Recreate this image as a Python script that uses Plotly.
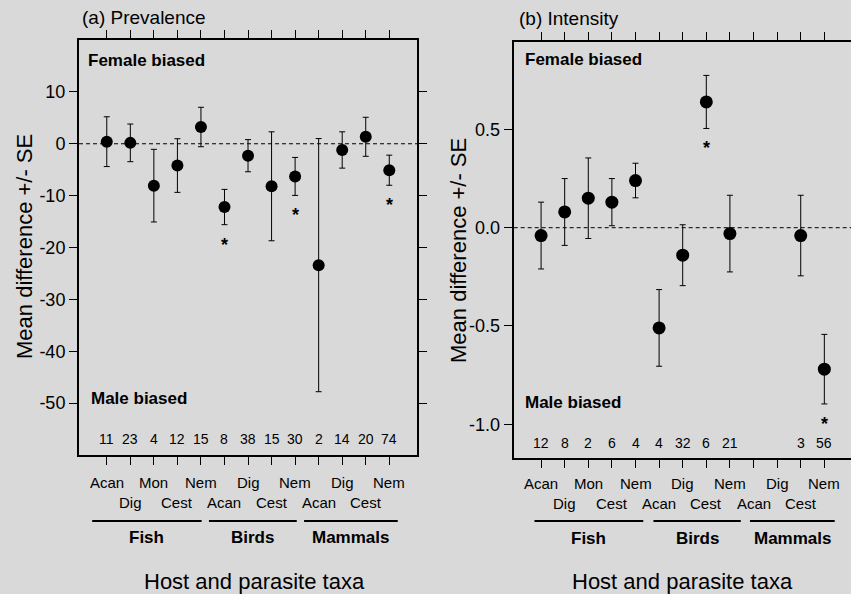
import plotly.graph_objects as go

# ---------------- data ----------------
categories = list(range(1, 14))
parasite_labels = ["Acan", "Dig", "Mon", "Cest", "Nem",
                   "Acan", "Dig", "Cest", "Nem",
                   "Acan", "Dig", "Cest", "Nem"]
host_groups = ["Fish", "Birds", "Mammals"]
host_members = [[1, 2, 3, 4, 5], [6, 7, 8, 9], [10, 11, 12, 13]]

prev_mean = [0.4, 0.17, -8.08, -4.2, 3.23, -12.2, -2.3, -8.2, -6.3, -23.4, -1.2, 1.34, -5.1]
prev_se = [4.8, 3.63, 7.0, 5.17, 3.8, 3.4, 3.1, 10.5, 3.66, 24.4, 3.5, 3.76, 2.9]
prev_n = [11, 23, 4, 12, 15, 8, 38, 15, 30, 2, 14, 20, 74]
prev_sig = [0, 0, 0, 0, 0, 1, 0, 0, 1, 0, 0, 0, 1]

int_mean = [-0.04, 0.08, 0.15, 0.13, 0.24, -0.51, -0.14, 0.64, -0.03, None, None, -0.04, -0.72]
int_se = [0.17, 0.17, 0.205, 0.12, 0.088, 0.195, 0.155, 0.135, 0.195, None, None, 0.205, 0.177]
int_n = [12, 8, 2, 6, 4, 4, 32, 6, 21, None, None, 3, 56]
int_sig = [0, 0, 0, 0, 0, 0, 0, 1, 0, 0, 0, 0, 1]

prev_ticks = [10, 0, -10, -20, -30, -40, -50]
int_ticks = [0.5, 0.0, -0.5, -1.0]

# ---------------- layout constants ----------------
W, H = 851, 594
BG = "#d9d9d9"
FONT = "Liberation Sans, Arial, Helvetica, sans-serif"


def px_x(p):
    return p / W


def px_y(p):
    return 1 - p / H


panels = [
    dict(xa="x", ya="y", xdom=[px_x(79), px_x(417.3)], ydom=[px_y(455), px_y(40)],
         xrange=[-0.18, 14.19], yrange=[-60, 20], mirror_y="allticks",
         title="(a) Prevalence", title_px=(80, 17),
         mean=prev_mean, se=prev_se, n=prev_n, sig=prev_sig,
         ticks=prev_ticks, ticktext=[str(t) for t in prev_ticks],
         spans=[(0.38, 5.03), (5.34, 9.07), (9.38, 13.36)],
         row_px=(482.5, 502.5), line_px=521, group_px=537,
         xtitle_px=(254, 581), ytitle_px=(24, 247),
         fem=(0.021, 0.950), male=(0.030, 0.135), n_y=0.038, msize=12),
    dict(xa="x2", ya="y2", xdom=[px_x(513.7), 1.0], ydom=[px_y(457.5), px_y(42)],
         xrange=[-0.16, 14.13], yrange=[-1.1695, 0.945], mirror_y=False,
         title="(b) Intensity", title_px=(516.7, 18.5),
         mean=int_mean, se=int_se, n=int_n, sig=int_sig,
         ticks=int_ticks, ticktext=["0.5", "0.0", "-0.5", "-1.0"],
         spans=[(0.72, 5.33), (5.76, 9.46), (9.85, 13.44)],
         row_px=(483.5, 503.5), line_px=521, group_px=538,
         xtitle_px=(682, 581), ytitle_px=(459, 250),
         fem=(0.027, 0.957), male=(0.028, 0.132), n_y=0.036, msize=13),
]

fig = go.Figure()
annotations = []
shapes = []

for i, p in enumerate(panels):
    suffix = "" if i == 0 else "2"
    fig.add_trace(go.Scatter(
        x=categories, y=p["mean"], mode="markers",
        marker=dict(color="black", size=p["msize"]),
        error_y=dict(type="data", array=p["se"], visible=True,
                     color="black", thickness=1, width=3),
        xaxis=p["xa"], yaxis=p["ya"], showlegend=False, cliponaxis=False,
    ))

    fig.layout["xaxis" + suffix] = dict(
        domain=p["xdom"], range=p["xrange"], anchor=p["ya"],
        showgrid=False, zeroline=False, showline=True, linecolor="black",
        linewidth=2, mirror="allticks", ticks="outside", ticklen=8,
        tickwidth=1, tickcolor="black", tickvals=categories,
        showticklabels=False,
    )
    fig.layout["yaxis" + suffix] = dict(
        domain=p["ydom"], range=p["yrange"], anchor=p["xa"],
        showgrid=False, zeroline=False, showline=True, linecolor="black",
        linewidth=2, mirror=p["mirror_y"], ticks="outside", ticklen=8,
        tickwidth=1, tickcolor="black", tickvals=p["ticks"],
        ticktext=p["ticktext"], tickfont=dict(size=18, color="black", family=FONT),
    )

    # dashed zero line
    shapes.append(dict(type="line", xref=p["xa"] + " domain", x0=0, x1=1,
                       yref=p["ya"], y0=0, y1=0,
                       line=dict(color="black", width=1, dash="4px,3px")))

    # significance stars
    for c, m, s, g in zip(categories, p["mean"], p["se"], p["sig"]):
        if g and m is not None:
            annotations.append(dict(x=c, y=m - s, xref=p["xa"], yref=p["ya"],
                                    text="<b>*</b>", showarrow=False,
                                    xanchor="center", yanchor="middle", yshift=-20,
                                    font=dict(size=18, color="black", family=FONT)))

    # sample sizes
    for c, n in zip(categories, p["n"]):
        if n is not None:
            annotations.append(dict(x=c, y=p["n_y"], xref=p["xa"],
                                    yref=p["ya"] + " domain", text=str(n),
                                    showarrow=False, xanchor="center", yanchor="middle",
                                    font=dict(size=14, color="black", family=FONT)))

    # female / male biased
    annotations.append(dict(x=p["fem"][0], y=p["fem"][1], xref=p["xa"] + " domain",
                            yref=p["ya"] + " domain", text="<b>Female biased</b>",
                            showarrow=False, xanchor="left", yanchor="middle",
                            font=dict(size=17, color="black", family=FONT)))
    annotations.append(dict(x=p["male"][0], y=p["male"][1], xref=p["xa"] + " domain",
                            yref=p["ya"] + " domain", text="<b>Male biased</b>",
                            showarrow=False, xanchor="left", yanchor="middle",
                            font=dict(size=17, color="black", family=FONT)))

    # parasite labels (two staggered rows)
    for k, (c, lab) in enumerate(zip(categories, parasite_labels)):
        rp = p["row_px"][k % 2]
        annotations.append(dict(x=c, y=px_y(rp), xref=p["xa"], yref="paper",
                                text=lab, showarrow=False,
                                xanchor="center", yanchor="middle",
                                font=dict(size=15, color="black", family=FONT)))

    # host group lines and labels
    for (x0, x1), gname in zip(p["spans"], host_groups):
        shapes.append(dict(type="line", xref=p["xa"], x0=x0, x1=x1,
                           yref="paper", y0=px_y(p["line_px"]), y1=px_y(p["line_px"]),
                           line=dict(color="black", width=2)))
        annotations.append(dict(x=(x0 + x1) / 2, y=px_y(p["group_px"]), xref=p["xa"],
                                yref="paper", text="<b>" + gname + "</b>",
                                showarrow=False, xanchor="center", yanchor="middle",
                                font=dict(size=17, color="black", family=FONT)))

    # panel title
    annotations.append(dict(x=px_x(p["title_px"][0]), y=px_y(p["title_px"][1]),
                            xref="paper", yref="paper", text=p["title"],
                            showarrow=False, xanchor="left", yanchor="middle",
                            font=dict(size=19, color="black", family=FONT)))
    # axis titles
    annotations.append(dict(x=px_x(p["xtitle_px"][0]), y=px_y(p["xtitle_px"][1]),
                            xref="paper", yref="paper", text="Host and parasite taxa",
                            showarrow=False, xanchor="center", yanchor="middle",
                            font=dict(size=22, color="black", family=FONT)))
    annotations.append(dict(x=px_x(p["ytitle_px"][0]), y=px_y(p["ytitle_px"][1]),
                            xref="paper", yref="paper", text="Mean difference +/- SE",
                            showarrow=False, textangle=-90, xanchor="center",
                            yanchor="middle",
                            font=dict(size=22, color="black", family=FONT)))

fig.update_layout(
    width=W, height=H, margin=dict(l=0, r=0, t=0, b=0),
    paper_bgcolor=BG, plot_bgcolor=BG,
    font=dict(family=FONT, color="black"),
    annotations=annotations, shapes=shapes, showlegend=False,
)

fig.write_html("out.html", config={"displayModeBar": False})
